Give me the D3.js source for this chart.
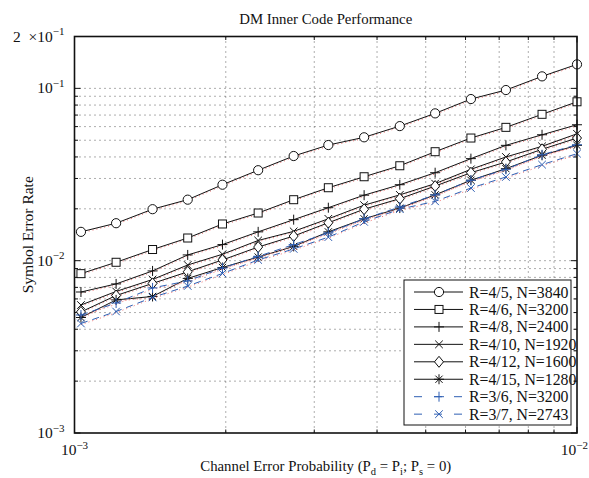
<!DOCTYPE html>
<html>
<head>
<meta charset="utf-8">
<script src="https://cdn.jsdelivr.net/npm/d3@7"></script>
<style>
  body { margin: 0; background: #fff; }
  text { font-family: "Liberation Serif", "DejaVu Serif", serif; fill: #111; }
</style>
</head>
<body>
<div id="chart"></div>
<script>
// channel error probability (x)
const pErr = [0.00103, 0.00121, 0.00143, 0.00168, 0.00197, 0.00232, 0.00273, 0.0032,
              0.00377, 0.00444, 0.00522, 0.00615, 0.00722, 0.00852, 0.01];

// symbol error rate per code
const ser45  = [0.0147, 0.0165, 0.0199, 0.0226, 0.0276, 0.0335, 0.0405, 0.0469,
                0.052, 0.0604, 0.0716, 0.0867, 0.0978, 0.1174, 0.1378];
const ser46  = [0.00841, 0.00979, 0.01161, 0.01354, 0.01633, 0.01891, 0.02259, 0.02651,
                0.0307, 0.03556, 0.0429, 0.0515, 0.0594, 0.0707, 0.0836];
const ser48  = [0.00658, 0.00733, 0.00872, 0.0108, 0.0124, 0.0147, 0.0173, 0.0203,
                0.024, 0.0276, 0.0324, 0.0391, 0.0467, 0.0538, 0.0615];
const ser410 = [0.00553, 0.00663, 0.00778, 0.00944, 0.0109, 0.0131, 0.0148, 0.0175,
                0.021, 0.0241, 0.028, 0.0339, 0.04, 0.0461, 0.0545];
const ser412 = [0.00504, 0.00628, 0.00738, 0.00862, 0.0101, 0.012, 0.0139, 0.0166,
                0.0199, 0.0229, 0.0271, 0.0324, 0.0374, 0.0443, 0.0515];
const ser415 = [0.00468, 0.00592, 0.0062, 0.00789, 0.00913, 0.0105, 0.0121, 0.0147,
                0.0175, 0.0202, 0.0241, 0.0293, 0.0342, 0.0409, 0.0467];
const ser36  = [0.00484, 0.00568, 0.00695, 0.00763, 0.00907, 0.0106, 0.0124, 0.0145,
                0.0175, 0.0205, 0.0241, 0.0293, 0.0339, 0.0412, 0.0471];
const ser37  = [0.00432, 0.00507, 0.00612, 0.00713, 0.00843, 0.0101, 0.0117, 0.0137,
                0.0168, 0.0199, 0.0221, 0.0264, 0.0306, 0.0361, 0.0418];

const seriesNames = ["R=4/5, N=3840", "R=4/6, N=3200", "R=4/8, N=2400", "R=4/10, N=1920",
                     "R=4/12, N=1600", "R=4/15, N=1280", "R=3/6, N=3200", "R=3/7, N=2743"];
const seriesValues = [ser45, ser46, ser48, ser410, ser412, ser415, ser36, ser37];
const seriesMarkers = ["circle", "square", "plus", "x", "diamond", "star", "plus", "x"];
const seriesDashed = [false, false, false, false, false, false, true, true];

const xMajor = [0.001, 0.01];
const xMinor = [0.002, 0.003, 0.004, 0.005, 0.006, 0.007, 0.008, 0.009];
const yMajor = [0.001, 0.01, 0.1];
const yMinor = [0.002, 0.003, 0.004, 0.005, 0.006, 0.007, 0.008, 0.009,
                0.02, 0.03, 0.04, 0.05, 0.06, 0.07, 0.08, 0.09];
const yMinorNoGrid = [0.2];

const title = "DM Inner Code Performance";
const yTitle = "Symbol Error Rate";

const width = 589, height = 478;
const margin = {left: 74.5, right: 12, top: 36.5, bottom: 45};
const x0 = margin.left, x1 = width - margin.right;
const y0 = margin.top, y1 = height - margin.bottom;

const blue = "#2f5fb3";

const svg = d3.select("#chart").append("svg")
  .attr("width", width)
  .attr("height", height);

const x = d3.scaleLog().domain([0.001, 0.01]).range([x0, x1]);
const y = d3.scaleLog().domain([0.001, 0.2]).range([y1, y0]);

// grid
const grid = svg.append("g")
  .attr("stroke", "#333")
  .attr("stroke-width", 0.8)
  .attr("stroke-dasharray", "1,4");
grid.selectAll(".gx").data(xMinor).join("line")
  .attr("x1", d => x(d)).attr("x2", d => x(d))
  .attr("y1", y0).attr("y2", y1);
grid.selectAll(".gy").data(yMinor.concat([0.01, 0.1])).join("line")
  .attr("y1", d => y(d)).attr("y2", d => y(d))
  .attr("x1", x0).attr("x2", x1);

// ticks on all four sides, pointing inward
const ticks = svg.append("g").attr("stroke", "#111").attr("stroke-width", 1);
const xt = xMajor.map(v => ({v, len: 6})).concat(xMinor.map(v => ({v, len: 3.5})));
const yt = yMajor.map(v => ({v, len: 6})).concat(yMinor.concat(yMinorNoGrid).map(v => ({v, len: 3.5})));
ticks.selectAll(".xb").data(xt).join("line")
  .attr("x1", d => x(d.v)).attr("x2", d => x(d.v)).attr("y1", y1).attr("y2", d => y1 - d.len);
ticks.selectAll(".xtp").data(xt).join("line")
  .attr("x1", d => x(d.v)).attr("x2", d => x(d.v)).attr("y1", y0).attr("y2", d => y0 + d.len);
ticks.selectAll(".yl").data(yt).join("line")
  .attr("y1", d => y(d.v)).attr("y2", d => y(d.v)).attr("x1", x0).attr("x2", d => x0 + d.len);
ticks.selectAll(".yr").data(yt).join("line")
  .attr("y1", d => y(d.v)).attr("y2", d => y(d.v)).attr("x1", x1).attr("x2", d => x1 - d.len);

// line generator
const line = d3.line()
  .x(d => x(d[0]))
  .y(d => y(d[1]));

// draw marker of given type at (cx, cy)
function marker(g, type, cx, cy, color) {
  const s = g.append("g").attr("transform", `translate(${cx},${cy})`)
    .attr("stroke", color).attr("stroke-width", 1).attr("fill", "none");
  if (type === "circle") s.append("circle").attr("r", 4.6).attr("fill", "#fff");
  else if (type === "square") s.append("rect").attr("x", -4).attr("y", -4).attr("width", 8).attr("height", 8).attr("fill", "#fff");
  else if (type === "diamond") s.append("path").attr("d", "M0,-5.5L4.5,0L0,5.5L-4.5,0Z").attr("fill", "#fff");
  else if (type === "plus") s.append("path").attr("d", "M-5,0H5M0,-5V5");
  else if (type === "x") s.append("path").attr("d", "M-3.8,-3.8L3.8,3.8M-3.8,3.8L3.8,-3.8");
  else if (type === "star") s.append("path").attr("d", "M-5,0H5M0,-5V5M-3.6,-3.6L3.6,3.6M-3.6,3.6L3.6,-3.6");
}

const plot = svg.append("g");
seriesValues.forEach((vals, i) => {
  const pts = pErr.map((p, k) => [p, vals[k]]);
  const color = seriesDashed[i] ? blue : "#111";
  // faint red dotted companion curve
  plot.append("path")
    .attr("d", line(pts))
    .attr("transform", "translate(0,1.2)")
    .attr("fill", "none")
    .attr("stroke", "#f07070")
    .attr("stroke-width", 1)
    .attr("stroke-dasharray", "1,3");
  plot.append("path")
    .attr("d", line(pts))
    .attr("fill", "none")
    .attr("stroke", color)
    .attr("stroke-width", 1)
    .attr("stroke-dasharray", seriesDashed[i] ? "7,5" : null);
  pts.forEach(d => marker(plot, seriesMarkers[i], x(d[0]), y(d[1]), color));
});

// axes box
svg.append("rect")
  .attr("x", x0).attr("y", y0)
  .attr("width", x1 - x0).attr("height", y1 - y0)
  .attr("fill", "none").attr("stroke", "#111").attr("stroke-width", 1.6);

// tick labels with superscripts
function powLabel(g, px, py, anchor, base, exp) {
  const t = g.append("text").attr("x", px).attr("y", py)
    .attr("text-anchor", anchor).attr("font-size", 15.5);
  t.append("tspan").text(base);
  t.append("tspan").attr("dy", -6.5).attr("font-size", 11).text(exp);
  return t;
}
const labels = svg.append("g");
powLabel(labels, x0 - 10, y(0.1) + 5, "end", "10", "\u22121");
powLabel(labels, x0 - 10, y(0.01) + 5, "end", "10", "\u22122");
powLabel(labels, x0 - 10, y(0.001) + 5, "end", "10", "\u22123");
powLabel(labels, x0 - 10, y(0.2) + 5, "end", "2\u2002\u00d710", "\u22121");
powLabel(labels, x(0.001), y1 + 22, "middle", "10", "\u22123");
powLabel(labels, width - 1, y1 + 22, "end", "10", "\u22122");

// titles
svg.append("text")
  .attr("x", (x0 + x1) / 2).attr("y", 24)
  .attr("text-anchor", "middle").attr("font-size", 14.8)
  .text(title);

svg.append("text")
  .attr("transform", `translate(33,${(y0 + y1) / 2}) rotate(-90)`)
  .attr("text-anchor", "middle").attr("font-size", 15.5)
  .text(yTitle);

const xl = svg.append("text")
  .attr("x", (x0 + x1) / 2).attr("y", 471)
  .attr("text-anchor", "middle").attr("font-size", 14.8);
[["Channel Error Probability (P", null], ["d", "sub"], [" = P", null], ["i", "sub"],
 ["; P", null], ["s", "sub"], [" = 0)", null]].forEach(([s, k]) => {
  const ts = xl.append("tspan").text(s);
  if (k === "sub") ts.attr("dy", 4).attr("font-size", 10.5);
  else ts.attr("dy", xl.selectAll("tspan").size() > 1 ? -4 : 0);
});

// legend
const lg = svg.append("g");
const lx = 404, ly = 280, lw = 167, lh = 145;
lg.append("rect").attr("x", lx).attr("y", ly).attr("width", lw).attr("height", lh)
  .attr("fill", "#fff").attr("stroke", "#111").attr("stroke-width", 1);
seriesNames.forEach((name, i) => {
  const ry = ly + 12 + i * 17.45;
  const color = seriesDashed[i] ? blue : "#111";
  lg.append("line").attr("x1", lx + 10).attr("x2", lx + 59)
    .attr("y1", ry).attr("y2", ry)
    .attr("stroke", color).attr("stroke-width", 1)
    .attr("stroke-dasharray", seriesDashed[i] ? "8,12" : null);
  marker(lg, seriesMarkers[i], lx + 35, ry, color);
  lg.append("text").attr("x", lx + 65).attr("y", ry + 5.5)
    .attr("font-size", 15.8).text(name);
});
</script>
</body>
</html>
